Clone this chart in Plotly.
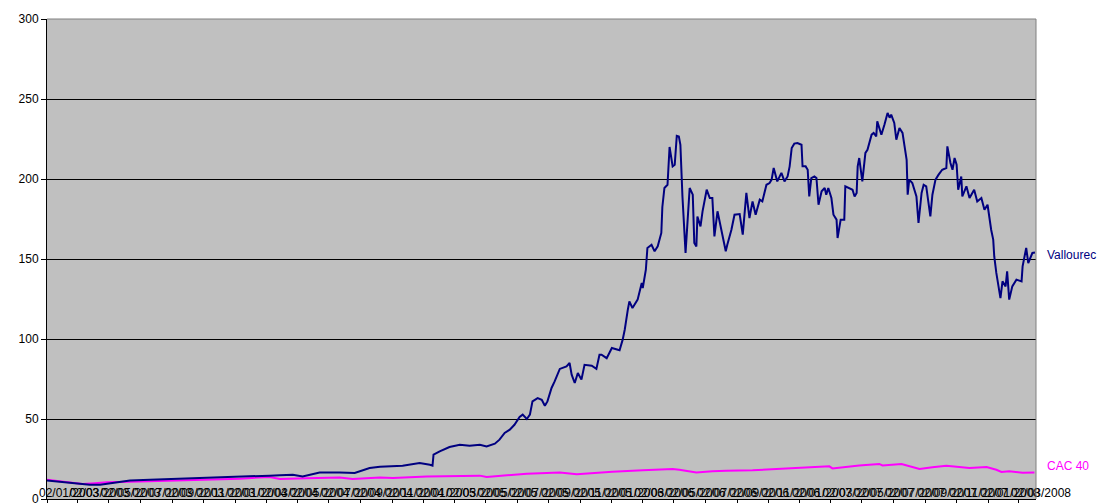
import plotly.graph_objects as go

# ---------------- data ----------------
vallourec_dates = [
    "2003-01-02", "2003-01-27", "2003-02-25", "2003-03-26", "2003-04-15", "2003-05-14", "2003-06-12",
    "2003-07-21", "2003-09-03", "2003-10-16", "2003-11-28", "2004-01-11", "2004-02-09", "2004-03-09",
    "2004-03-29", "2004-04-23", "2004-05-12", "2004-06-14", "2004-07-23", "2004-08-21", "2004-09-19",
    "2004-10-09", "2004-11-22", "2004-12-25", "2005-01-14", "2005-01-19", "2005-01-21", "2005-02-02",
    "2005-02-21", "2005-03-13", "2005-04-01", "2005-04-21", "2005-05-04", "2005-05-20", "2005-05-29",
    "2005-06-08", "2005-06-18", "2005-06-27", "2005-07-07", "2005-07-13", "2005-07-21", "2005-07-27",
    "2005-08-01", "2005-08-11", "2005-08-19", "2005-08-25", "2005-08-30", "2005-09-07", "2005-09-13",
    "2005-09-23", "2005-10-06", "2005-10-12", "2005-10-16", "2005-10-22", "2005-10-28", "2005-11-04",
    "2005-11-10", "2005-11-24", "2005-12-03", "2005-12-09", "2005-12-13", "2005-12-23", "2006-01-02",
    "2006-01-11", "2006-01-17", "2006-01-23", "2006-01-27", "2006-02-02", "2006-02-05", "2006-02-11",
    "2006-02-21", "2006-03-01", "2006-03-03", "2006-03-09", "2006-03-12", "2006-03-20", "2006-03-26",
    "2006-04-01", "2006-04-08", "2006-04-10", "2006-04-14", "2006-04-20", "2006-04-24", "2006-04-30",
    "2006-05-04", "2006-05-08", "2006-05-12", "2006-05-15", "2006-05-19", "2006-05-25", "2006-05-29",
    "2006-06-02", "2006-06-08", "2006-06-11", "2006-06-15", "2006-06-17", "2006-06-23", "2006-06-27",
    "2006-07-05", "2006-07-11", "2006-07-16", "2006-07-20", "2006-07-26", "2006-08-03", "2006-08-11",
    "2006-08-14", "2006-08-22", "2006-08-28", "2006-09-07", "2006-09-13", "2006-09-20", "2006-09-26",
    "2006-10-02", "2006-10-08", "2006-10-16", "2006-10-21", "2006-10-29", "2006-11-04", "2006-11-08",
    "2006-11-12", "2006-11-19", "2006-11-27", "2006-12-03", "2006-12-09", "2006-12-13", "2006-12-17",
    "2006-12-22", "2006-12-28", "2007-01-05", "2007-01-07", "2007-01-13", "2007-01-17", "2007-01-20",
    "2007-01-24", "2007-01-30", "2007-02-03", "2007-02-07", "2007-02-13", "2007-02-19", "2007-02-22",
    "2007-02-26", "2007-03-04", "2007-03-08", "2007-03-14", "2007-03-16", "2007-03-22", "2007-03-29",
    "2007-03-31", "2007-04-08", "2007-04-14", "2007-04-18", "2007-04-22", "2007-04-24", "2007-04-27",
    "2007-05-03", "2007-05-09", "2007-05-13", "2007-05-21", "2007-05-25", "2007-05-30", "2007-06-01",
    "2007-06-09", "2007-06-15", "2007-06-21", "2007-06-25", "2007-06-28", "2007-07-04", "2007-07-08",
    "2007-07-14", "2007-07-20", "2007-07-24", "2007-07-28", "2007-07-30", "2007-08-02", "2007-08-08",
    "2007-08-16", "2007-08-20", "2007-08-26", "2007-08-30", "2007-09-04", "2007-09-08", "2007-09-12",
    "2007-09-16", "2007-09-22", "2007-09-28", "2007-10-05", "2007-10-13", "2007-10-15", "2007-10-21",
    "2007-10-25", "2007-10-29", "2007-11-02", "2007-11-05", "2007-11-11", "2007-11-13", "2007-11-21",
    "2007-11-27", "2007-12-06", "2007-12-12", "2007-12-20", "2007-12-26", "2008-01-01", "2008-01-08",
    "2008-01-12", "2008-01-14", "2008-01-18", "2008-01-26", "2008-01-30", "2008-02-05", "2008-02-08",
    "2008-02-12", "2008-02-18", "2008-02-26", "2008-03-07", "2008-03-09", "2008-03-16", "2008-03-20",
    "2008-03-28", "2008-04-02",
]
vallourec_values = [
    11.6, 10.8, 9.6, 8.9, 8.9, 10.2, 11.6,
    12.1, 12.5, 13.0, 13.3, 13.8, 14.3, 14.6,
    14.9, 15.2, 14.1, 16.6, 16.6, 16.3, 19.4,
    20.2, 20.8, 22.5, 21.4, 20.8, 27.7, 29.8,
    32.5, 33.9, 33.3, 33.9, 32.9, 34.6, 37.1,
    41.3, 43.3, 46.4, 51.3, 52.7, 50.0, 52.7,
    61.0, 63.1, 62.0, 58.3, 61.0, 69.4, 73.5,
    81.3, 82.9, 85.0, 77.7, 72.5, 78.8, 74.6,
    83.9, 83.3, 81.3, 90.2, 90.2, 88.0, 94.4,
    93.3, 93.0, 99.6, 105.8, 118.3, 123.5, 119.4,
    124.6, 135.0, 131.9, 143.3, 156.9, 158.9, 154.8,
    157.9, 166.3, 182.5, 194.4, 196.4, 220.0, 207.9,
    208.9, 227.0, 226.6, 221.4, 189.1, 153.8, 172.5,
    194.4, 190.2, 160.0, 157.9, 176.6, 170.4, 179.8,
    193.3, 188.1, 188.1, 164.1, 179.8, 168.3, 154.8,
    158.9, 168.3, 177.7, 178.1, 165.2, 191.3, 175.6,
    186.0, 177.7, 187.1, 186.0, 196.4, 197.5, 199.6,
    206.9, 198.5, 203.8, 198.5, 201.6, 207.9, 219.4,
    222.1, 222.5, 221.4, 207.9, 207.9, 205.8, 189.1,
    200.6, 201.6, 200.6, 183.9, 192.3, 194.4, 190.2,
    194.4, 188.1, 177.7, 174.6, 163.1, 174.6, 174.6,
    195.4, 194.4, 193.3, 189.1, 191.3, 207.9, 213.1,
    198.5, 216.3, 218.3, 227.7, 228.8, 226.6, 236.0,
    227.7, 234.0, 241.3, 238.3, 240.2, 235.0, 224.6,
    231.9, 228.8, 220.4, 212.0, 190.2, 199.6, 197.5,
    189.1, 172.5, 191.3, 196.4, 195.4, 186.0, 176.6,
    190.2, 199.6, 202.7, 205.8, 206.9, 220.4, 210.0,
    205.8, 213.1, 208.9, 193.3, 201.6, 189.1, 195.4,
    188.1, 193.3, 186.0, 188.1, 180.8, 183.9, 168.3,
    162.1, 151.6, 141.3, 125.6, 136.0, 132.9, 142.3,
    124.6, 132.9, 137.1, 136.0, 145.4, 156.9, 147.5,
    153.8, 154.1,
]

cac_dates = [
    "2003-01-02", "2003-01-27", "2003-03-12", "2003-04-05", "2003-04-28", "2003-07-01", "2003-09-03",
    "2003-11-08", "2004-01-11", "2004-03-09", "2004-03-29", "2004-05-20", "2004-07-23", "2004-08-17",
    "2004-10-09", "2004-11-03", "2005-01-08", "2005-04-21", "2005-05-04", "2005-07-21", "2005-09-23",
    "2005-10-26", "2006-01-03", "2006-03-03", "2006-04-30", "2006-05-13", "2006-06-15", "2006-07-16",
    "2006-08-12", "2006-10-02", "2006-12-07", "2007-02-28", "2007-03-06", "2007-04-27", "2007-06-05",
    "2007-06-11", "2007-07-18", "2007-08-02", "2007-08-22", "2007-09-16", "2007-10-13", "2007-11-27",
    "2007-12-30", "2008-01-18", "2008-01-28", "2008-02-12", "2008-03-09", "2008-04-01",
]
cac_values = [
    12.1, 11.1, 9.4, 9.9, 10.4, 11.0, 11.6,
    12.1, 12.7, 13.8, 12.5, 12.9, 13.5, 12.5,
    13.5, 13.1, 14.1, 14.6, 13.8, 15.8, 16.6,
    15.4, 17.1, 17.9, 18.8, 18.3, 16.6, 17.3,
    17.7, 17.9, 18.9, 20.4, 19.1, 21.0, 21.9,
    21.0, 21.9, 20.4, 18.8, 19.8, 20.8, 19.4,
    20.0, 18.3, 16.9, 17.3, 16.4, 16.6,
]

tick_dates = [
    "2003-01-02", "2003-03-02", "2003-05-02", "2003-07-02", "2003-09-02", "2003-11-02",
    "2004-01-02", "2004-03-02", "2004-05-02", "2004-07-02", "2004-09-02", "2004-11-02",
    "2005-01-02", "2005-03-02", "2005-05-02", "2005-07-02", "2005-09-02", "2005-11-02",
    "2006-01-02", "2006-03-02", "2006-05-02", "2006-07-02", "2006-09-02", "2006-11-02",
    "2007-01-02", "2007-03-02", "2007-05-02", "2007-07-02", "2007-09-02", "2007-11-02",
    "2008-01-02", "2008-03-02",
]
tick_labels = [
    "02/01/2003", "02/03/2003", "02/05/2003", "02/07/2003", "02/09/2003", "02/11/2003",
    "02/01/2004", "02/03/2004", "02/05/2004", "02/07/2004", "02/09/2004", "02/11/2004",
    "02/01/2005", "02/03/2005", "02/05/2005", "02/07/2005", "02/09/2005", "02/11/2005",
    "02/01/2006", "02/03/2006", "02/05/2006", "02/07/2006", "02/09/2006", "02/11/2006",
    "02/01/2007", "02/03/2007", "02/05/2007", "02/07/2007", "02/09/2007", "02/11/2007",
    "02/01/2008", "02/03/2008",
]
x_range = ["2003-01-02", "2008-04-04"]
y_ticks = [0, 50, 100, 150, 200, 250, 300]

FONT = "Arial, 'Liberation Sans', sans-serif"
NAVY = "#000080"
MAGENTA = "#FF00FF"

fig = go.Figure()
fig.add_trace(go.Scatter(x=cac_dates, y=cac_values, mode="lines", name="CAC 40",
                         line=dict(color=MAGENTA, width=2)))
fig.add_trace(go.Scatter(x=vallourec_dates, y=vallourec_values, mode="lines", name="Vallourec",
                         line=dict(color=NAVY, width=2)))

fig.add_annotation(x=vallourec_dates[-1], y=vallourec_values[-1], text="Vallourec",
                   xanchor="left", yanchor="middle", xshift=10, yshift=-3, showarrow=False,
                   font=dict(family=FONT, size=12, color=NAVY))
fig.add_annotation(x=cac_dates[-1], y=cac_values[-1], text="CAC 40",
                   xanchor="left", yanchor="middle", xshift=11, yshift=6, showarrow=False,
                   font=dict(family=FONT, size=12, color=MAGENTA))

# gray top and right borders of the plot area
fig.add_shape(type="line", xref="paper", yref="paper", x0=0, x1=1, y0=1, y1=1,
              line=dict(color="#808080", width=1))
fig.add_shape(type="line", xref="paper", yref="paper", x0=1, x1=1, y0=0, y1=1,
              line=dict(color="#808080", width=1))

fig.update_layout(
    width=1103, height=503,
    margin=dict(l=47, r=67, t=19, b=4, autoexpand=False),
    paper_bgcolor="white", plot_bgcolor="#C0C0C0",
    showlegend=False,
    font=dict(family=FONT, size=12, color="black"),
    xaxis=dict(type="date", range=x_range, tickmode="array", tickvals=tick_dates, ticktext=tick_labels,
               tickangle=0, ticks="outside", ticklen=4, tickcolor="black", automargin=False,
               ticklabelposition="outside", ticklabeloverflow="allow", ticklabelshift=22,
               ticklabelstandoff=-21,
               showgrid=False, zeroline=False, showline=True, linecolor="black", linewidth=1,
               tickfont=dict(family=FONT, size=12, color="black")),
    yaxis=dict(range=[0, 300], tickmode="array", tickvals=y_ticks, ticks="outside", ticklen=5,
               tickcolor="black", showgrid=True, gridcolor="black", gridwidth=1, zeroline=False,
               showline=True, linecolor="black", linewidth=1, automargin=False,
               ticklabeloverflow="allow",
               tickfont=dict(family=FONT, size=12, color="black")),
)

fig.write_html("out.html")
